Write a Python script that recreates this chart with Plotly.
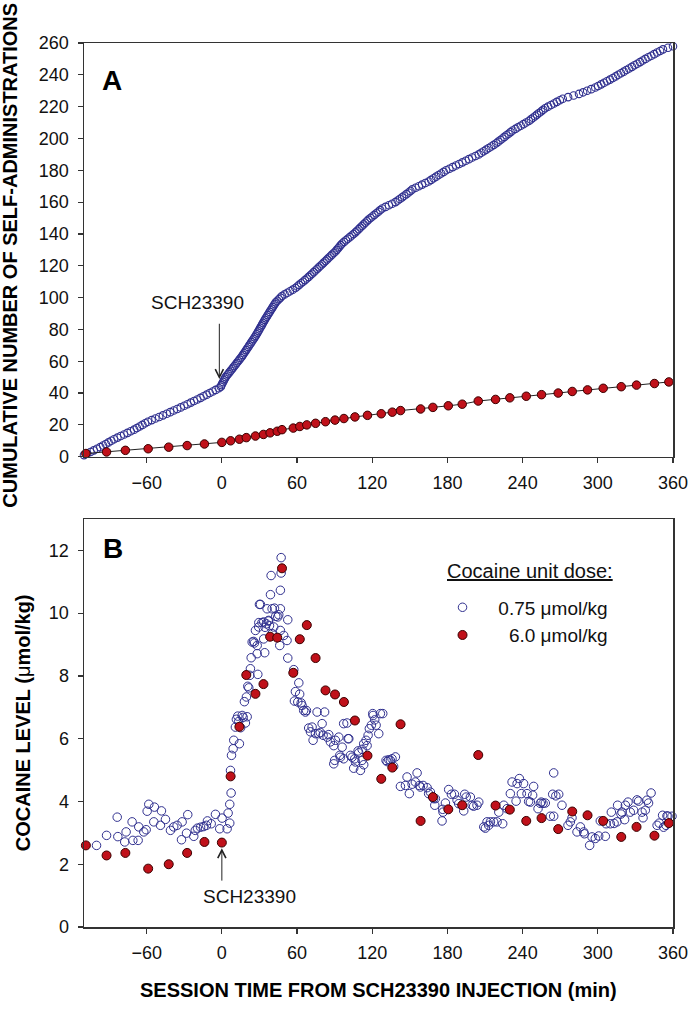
import numpy as np
import plotly.graph_objects as go

FONT = "Liberation Sans, Arial, Helvetica, sans-serif"
BLUE = "#30308F"
RED = "#C0111A"
RED_EDGE = "#3A0000"

# ---------------- Panel A: cumulative self-administrations ----------------
# infusion times (min) for the 0.75 umol/kg session
blue_a_time = [
    -110, -107.4, -104.8, -102.2, -99.6, -97, -94.8, -92.6, -90.4, -88.2, -86,
    -83.3, -80.7, -78, -75.3, -72.7, -70, -67.8, -65.6, -63.4, -61.2, -59,
    -56, -53, -50, -47, -44, -41.2, -38.4, -35.6, -32.8, -30,
    -27.4, -24.8, -22.2, -19.6, -17, -14.6, -12.1, -9.7, -7.3, -4.9, -2.4, -0.8,
    -0.3, 0.3, 1, 1.7, 2.3, 3,
    4, 5, 6, 7, 8, 9, 10, 11, 12, 13, 14, 15, 16,
    16.8, 17.7, 18.5, 19.4, 20.2, 21.1, 21.9, 22.8, 23.6, 24.5, 25.3, 26.2, 27,
    27.7, 28.5, 29.2, 29.9, 30.6, 31.4, 32.1, 32.8, 33.5, 34.3, 35,
    35.8, 36.6, 37.4, 38.2, 39, 39.8, 40.6, 41.4, 42.2, 43,
    44.3, 45.5, 46.8, 48,
    50.1, 52.3, 54.4, 56.6, 58.7,
    60.2, 61.7, 63.2, 64.8, 66.3, 67.8, 69.3,
    70.6, 72, 73.3, 74.7, 76, 77.3, 78.7, 80,
    81.3, 82.7, 84, 85.3, 86.6, 87.9, 89.3, 90.6,
    91.7, 92.8, 93.8, 94.9, 96,
    97.5, 99, 100.5, 102.1, 103.6, 105.1, 106.6,
    107.9, 109.2, 110.5, 111.8, 113.1, 114.4, 115.7, 117,
    118.6, 120.1, 121.7, 123.3, 124.9, 126.4, 128,
    130.6, 133.3, 135.9, 138.5,
    140.3, 142, 143.8, 145.5, 147.3, 149,
    150.5, 152,
    154.6, 157.2, 159.8, 162.4, 165,
    167, 169, 171, 173, 175, 177, 179,
    181.6, 184.2, 186.8, 189.4, 192,
    194.6, 197.2, 199.8, 202.4, 205,
    207, 209, 211, 213, 215, 217, 219,
    220.6, 222.3, 223.9, 225.5, 227.1, 228.8, 230.4, 232,
    234.2, 236.3, 238.5, 240.7, 242.8, 245,
    246.6, 248.3, 249.9, 251.5, 253.1, 254.8, 256.4, 258,
    260.3, 262.7, 265, 267.3, 269.7, 272,
    276.3, 280.7, 285,
    288.3, 291.5, 294.8, 298,
    300.3, 302.7, 305, 307.3, 309.7, 312,
    314.2, 316.3, 318.5, 320.7, 322.8, 325,
    327.2, 329.3, 331.5, 333.7, 335.8, 338,
    340.3, 342.7, 345, 347.3, 349.7, 352,
    356, 360,
]
# cumulative count of those infusions (1st, 2nd, 3rd ...)
blue_a_count = np.arange(1, len(blue_a_time) + 1)

# infusion times (min) for the 6.0 umol/kg session (shared by both panels)
red_time = [
    -108.5, -92, -77, -58.8, -42.4, -27.7, -13.9, 0, 7, 14,
    19.5, 26.8, 33.2, 38.5, 44.2, 48, 57, 62.2, 67.8, 74.8,
    82.7, 90.3, 97.4, 106.2, 116.2, 127.2, 136, 142.6, 158.6, 168.4,
    180.7, 191.8, 204.6, 218.4, 229.8, 242.9, 255.1, 268.4, 279.6, 291.8,
    304.3, 318.7, 330.9, 345.2, 356.7,
]
red_cum = [
    2, 3, 4, 5, 6, 7, 8, 9, 10, 11,
    12, 13, 14, 15, 16, 17, 18, 19, 20, 21,
    22, 23, 24, 25, 26, 27, 28, 29, 30, 31,
    32, 33, 35, 36, 37, 38, 39, 40, 41, 42,
    43, 44, 45, 46, 47,
]

# ---------------- Panel B: cocaine level ----------------
blue_b_time = [
    # pre-injection
    -100, -92, -83.5, -83, -77.5, -76.4, -71.6, -71, -66.8, -66.3,
    -62.3, -60.4, -59.6, -58.3, -54.3, -53.8, -49, -48.2, -45, -41,
    -38.4, -35.7, -32.2, -31.7, -28.2, -27.2, -22.4, -21.2, -19.5, -17,
    -14.5, -12.3, -11.5, -8.5, -5.1, -1.7, 0.2,
    # rise
    4.2, 5.0, 6.3, 6.3, 7.4, 6.9, 7.7, 9.0, 9.5, 10.8,
    11.6, 12.7, 13.5, 14.0, 15.0, 16.2, 17.0, 18.0, 18.8, 19.6,
    20.2, 20.7, 21.5, 22.3, 22.8, 23.4, 24.2, 25.4, 26.0, 26.8,
    # peak
    28.2, 28.2, 28.7, 29.4, 29.5, 30.0, 30.8, 32.0, 33.4, 33.4,
    34.2, 34.5, 35.6, 36.1, 37.0, 37.4, 38.0, 38.8, 39.3, 40.1,
    40.1, 41.4, 42.0, 43.0, 44.6, 45.4, 46.2, 46.7, 46.7, 46.7,
    47.3, 47.3, 49.4, 52.0, 52.6, 52.6,
    # decline
    57.4, 57.9, 58.7, 60.6, 61.4, 62.1, 63.3, 64.0, 65.3, 66.7,
    67.5, 69.3, 70.7, 72.0, 72.8, 74.7, 76.0, 77.3, 78.5, 80.0,
    80.8, 82.0, 84.0, 85.3, 86.6, 89.3, 89.3, 90.0, 90.6, 93.3,
    94.1, 94.6, 96.0, 97.2, 97.2,
    # second bump
    99.9, 100.7, 101.3, 102.6, 103.9, 105.2, 106.0, 106.6, 108.7, 109.2,
    110.6, 111.9, 111.9, 113.2, 113.2, 115.1, 115.9, 116.7, 117.7, 119.3,
    120.4, 120.7, 122.0, 123.1, 125.2, 126.5, 128.4, 131.0, 131.9, 133.2,
    134.5, 135.8, 137.1, 138.5,
    # late
    142.5, 146.5, 147.8, 149.6, 151.8, 154.4, 155.8, 157.6, 158.4, 160.6,
    163.8, 165.0, 166.4, 169.0, 169.9, 170.4, 175.7, 176.2, 176.5, 178.4,
    181.0, 183.2, 185.6, 187.7, 189.0, 193.0, 193.8, 195.0, 198.3, 199.7,
    200.9, 203.6, 205.0,
    209.0, 210.3, 211.6, 212.9, 214.3, 216.9, 219.6, 221.0, 224.1, 225.0,
    227.6, 230.2, 231.6, 234.8, 235.6, 237.4, 239.0, 240.8, 243.5, 244.8,
    246.2, 248.0, 248.8, 252.3, 254.1, 254.9, 256.3, 258.1, 262.1, 264.0,
    264.8, 264.8, 266.5, 268.8, 271.4, 276.2, 278.1, 279.4, 283.4, 286.1,
    288.7, 289.3,
    293.5, 295.4, 298.0, 300.7, 302.0, 306.0, 306.6, 310.0, 310.8, 313.0,
    315.3, 315.8, 318.5, 319.3, 321.4, 322.0, 324.1, 325.9, 328.6, 331.3,
    332.6, 335.3, 336.1, 337.9, 339.2, 340.5, 342.5, 347.3, 349.0, 351.7,
    352.5, 354.4, 355.2, 356.0, 359.2,
]
blue_b_level = [
    # pre-injection
    2.60, 2.92, 3.50, 2.88, 2.71, 3.03, 3.35, 2.76, 2.76, 3.19,
    3.03, 3.10, 3.69, 3.91, 3.35, 3.82, 3.24, 3.70, 3.43, 3.08,
    3.19, 3.24, 2.78, 3.35, 2.99, 3.58, 2.89, 3.08, 3.15, 3.18,
    3.20, 3.24, 3.38, 3.29, 3.59, 3.13, 3.47,
    # rise
    3.13, 3.63, 3.31, 3.91, 4.27, 4.99, 5.47, 5.68, 5.95, 6.37,
    6.62, 6.72, 6.55, 5.84, 6.35, 6.74, 6.68, 7.18, 6.50, 7.33,
    6.70, 7.67, 7.62, 8.02, 8.23, 8.58, 9.08, 9.10, 9.05, 9.45,
    # peak
    8.97, 8.71, 8.05, 9.56, 9.70, 10.28, 10.28, 9.70, 9.72, 9.18,
    8.74, 9.55, 9.66, 10.14, 9.75, 9.77, 9.60, 10.59, 11.20, 10.14,
    9.35, 9.56, 10.16, 9.90, 9.88, 9.95, 8.97, 9.45, 10.14, 10.73,
    11.28, 11.77, 9.29, 9.13, 9.79, 8.57,
    # decline
    8.20, 7.20, 7.50, 7.17, 7.78, 7.42, 7.14, 7.06, 6.90, 6.85,
    6.90, 6.34, 6.22, 6.37, 5.95, 6.16, 6.85, 6.16, 6.20, 6.48,
    6.11, 6.85, 6.05, 6.13, 5.90, 5.78, 5.20, 5.31, 5.95, 6.05,
    5.47, 5.41, 5.73, 6.48, 5.36,
    # second bump
    6.50, 6.00, 6.00, 5.47, 5.41, 5.06, 5.36, 5.26, 5.61, 5.55,
    4.99, 5.31, 5.66, 5.84, 5.17, 5.95, 5.78, 6.11, 6.32, 6.43,
    6.80, 6.74, 6.60, 6.43, 6.16, 6.80, 6.80, 5.31, 5.27, 5.33,
    5.31, 5.36, 5.12, 5.42,
    # late
    4.48, 4.51, 4.78, 4.25, 4.55, 4.62, 4.91, 4.51, 4.46, 4.51,
    4.44, 4.25, 4.30, 4.09, 3.88, 4.09, 3.38, 3.75, 3.66, 3.95,
    4.38, 4.23, 4.23, 4.04, 3.93, 3.70, 4.23, 4.14, 4.14, 3.88,
    3.85, 3.88, 3.98,
    3.19, 3.15, 3.35, 3.24, 3.35, 3.35, 3.35, 3.66, 3.29, 3.88,
    3.77, 4.25, 4.62, 4.01, 4.57, 4.73, 4.25, 4.57, 4.25, 4.00,
    3.98, 4.20, 4.48, 3.77, 3.94, 3.98, 3.94, 3.95, 3.53, 4.23,
    3.53, 4.91, 4.18, 4.23, 3.88, 3.24, 3.35, 3.48, 3.03, 3.19,
    3.03, 2.97,
    2.60, 2.87, 2.82, 2.90, 3.38, 2.89, 3.29, 3.29, 3.66, 3.30,
    3.35, 3.88, 3.60, 3.66, 3.42, 3.88, 3.98, 3.66, 3.72, 4.05,
    4.01, 3.66, 3.48, 3.72, 4.04, 3.95, 4.27, 3.24, 3.31, 3.56,
    3.18, 3.24, 3.54, 3.53, 3.53,
]
red_level = [
    2.60, 2.28, 2.36, 1.86, 2.00, 2.36, 2.71, 2.69, 4.80, 6.38,
    8.03, 7.43, 7.74, 9.25, 9.22, 11.43, 8.10, 9.17, 9.62, 8.57,
    7.54, 7.41, 7.17, 6.58, 5.46, 4.72, 5.08, 6.46, 3.38, 4.14,
    3.75, 3.88, 5.48, 3.87, 3.74, 3.38, 3.47, 3.12, 3.68, 3.56,
    3.38, 2.87, 3.19, 2.91, 3.31,
]

x_ticks = [-60, 0, 60, 120, 180, 240, 300, 360]
ya_ticks = list(range(0, 261, 20))
yb_ticks = [0, 2, 4, 6, 8, 10, 12]
series_names = ["0.75 \u03bcmol/kg", "6.0 \u03bcmol/kg"]
legend_title = "Cocaine unit dose:"

# ---------------- figure ----------------
fig = go.Figure()

fig.add_trace(go.Scatter(
    x=blue_a_time, y=blue_a_count, mode="markers", xaxis="x", yaxis="y",
    marker=dict(symbol="circle-open", size=7.5, color=BLUE, line=dict(width=1.1)),
    showlegend=False, cliponaxis=False, hoverinfo="skip"))
fig.add_trace(go.Scatter(
    x=red_time, y=red_cum, mode="lines+markers", xaxis="x", yaxis="y",
    line=dict(color="#222222", width=1),
    marker=dict(symbol="circle", size=8.5, color=RED, line=dict(color=RED_EDGE, width=1)),
    showlegend=False, cliponaxis=False, hoverinfo="skip"))

fig.add_trace(go.Scatter(
    x=blue_b_time, y=blue_b_level, mode="markers", xaxis="x2", yaxis="y2",
    name="\u00a0\u00a0\u00a0" + series_names[0],
    marker=dict(symbol="circle-open", size=8.5, color=BLUE, line=dict(width=1)),
    cliponaxis=False, hoverinfo="skip"))
fig.add_trace(go.Scatter(
    x=red_time, y=red_level, mode="markers", xaxis="x2", yaxis="y2",
    name="\u00a0\u00a0\u00a0\u00a0\u00a0" + series_names[1],
    marker=dict(symbol="circle", size=9, color=RED, line=dict(color=RED_EDGE, width=1)),
    cliponaxis=False, hoverinfo="skip"))

axis_common = dict(
    showline=True, linecolor="#333333", linewidth=1.5, mirror=True,
    ticks="outside", ticklen=5, tickwidth=1.2, tickcolor="#333333",
    showgrid=False, zeroline=False,
    tickfont=dict(family=FONT, size=18, color="#111111"),
)
x_axis = dict(axis_common, range=[-110, 360], tickvals=x_ticks, domain=[0, 1],
              ticklabelstandoff=4)
y_axis = dict(axis_common, ticklabelstandoff=5)

fig.update_layout(
    width=690, height=1009, autosize=False,
    margin=dict(l=84, r=17, t=43, b=82, autoexpand=False),
    paper_bgcolor="white", plot_bgcolor="white",
    font=dict(family=FONT, color="#111111"),
    xaxis=dict(x_axis, anchor="y"),
    yaxis=dict(y_axis, range=[0, 260], tickvals=ya_ticks, anchor="x", domain=[0.532, 1.0]),
    xaxis2=dict(x_axis, anchor="y2"),
    yaxis2=dict(y_axis, range=[0, 13], tickvals=yb_ticks, anchor="x2", domain=[0, 0.4615]),
    showlegend=True,
    legend=dict(
        x=0.6087, y=0.383, xanchor="left", yanchor="top",
        font=dict(family=FONT, size=19, color="#111111"),
        bgcolor="rgba(0,0,0,0)", borderwidth=0, tracegroupgap=0,
    ),
)

annotations = [
    # panel letters
    dict(text="<b>A</b>", x=0.047, y=0.958, xref="paper", yref="paper",
         showarrow=False, font=dict(family=FONT, size=28, color="#000000"),
         xanchor="center", yanchor="middle"),
    dict(text="<b>B</b>", x=0.0492, y=0.428, xref="paper", yref="paper",
         showarrow=False, font=dict(family=FONT, size=28, color="#000000"),
         xanchor="center", yanchor="middle"),
    # legend heading
    dict(text="<u>" + legend_title + "</u>", x=0.7564, y=0.4027, xref="paper", yref="paper",
         showarrow=False, font=dict(family=FONT, size=20, color="#111111"),
         xanchor="center", yanchor="middle"),
    # axis titles
    dict(text="<b>CUMULATIVE NUMBER OF SELF-ADMINISTRATIONS</b>", x=-0.1248, y=0.760,
         xref="paper", yref="paper", showarrow=False, textangle=-90,
         font=dict(family=FONT, size=20, color="#000000"),
         xanchor="center", yanchor="middle"),
    dict(text="<b>COCAINE LEVEL (</b>\u03bc<b>mol/kg)</b>", x=-0.1041, y=0.2313,
         xref="paper", yref="paper", showarrow=False, textangle=-90,
         font=dict(family=FONT, size=20, color="#000000"),
         xanchor="center", yanchor="middle"),
    dict(text="<b>SESSION TIME FROM SCH23390 INJECTION (min)</b>", x=0.5, y=-0.0713,
         xref="paper", yref="paper", showarrow=False,
         font=dict(family=FONT, size=20, color="#000000"),
         xanchor="center", yanchor="middle"),
    # SCH23390 marker, panel A
    dict(text="SCH23390", x=-19.7, y=96.9, xref="x", yref="y", showarrow=False,
         font=dict(family=FONT, size=19, color="#111111"),
         xanchor="center", yanchor="middle"),
    dict(text="", x=-2, y=48.8, ax=-2, ay=84.5, xref="x", yref="y", axref="x", ayref="y",
         showarrow=True, arrowhead=5, arrowsize=1.6, arrowwidth=1, arrowcolor="#222222"),
    # SCH23390 marker, panel B
    dict(text="SCH23390", x=22.4, y=0.96, xref="x2", yref="y2", showarrow=False,
         font=dict(family=FONT, size=19, color="#111111"),
         xanchor="center", yanchor="middle"),
    dict(text="", x=0, y=2.51, ax=0, ay=1.43, xref="x2", yref="y2", axref="x2", ayref="y2",
         showarrow=True, arrowhead=5, arrowsize=1.6, arrowwidth=1, arrowcolor="#222222"),
]
fig.update_layout(annotations=annotations)

fig.write_html(
    "out.html",
    config={"displayModeBar": False, "staticPlot": True},
    post_script="document.body.style.margin='0px';document.body.style.overflow='hidden';",
)
